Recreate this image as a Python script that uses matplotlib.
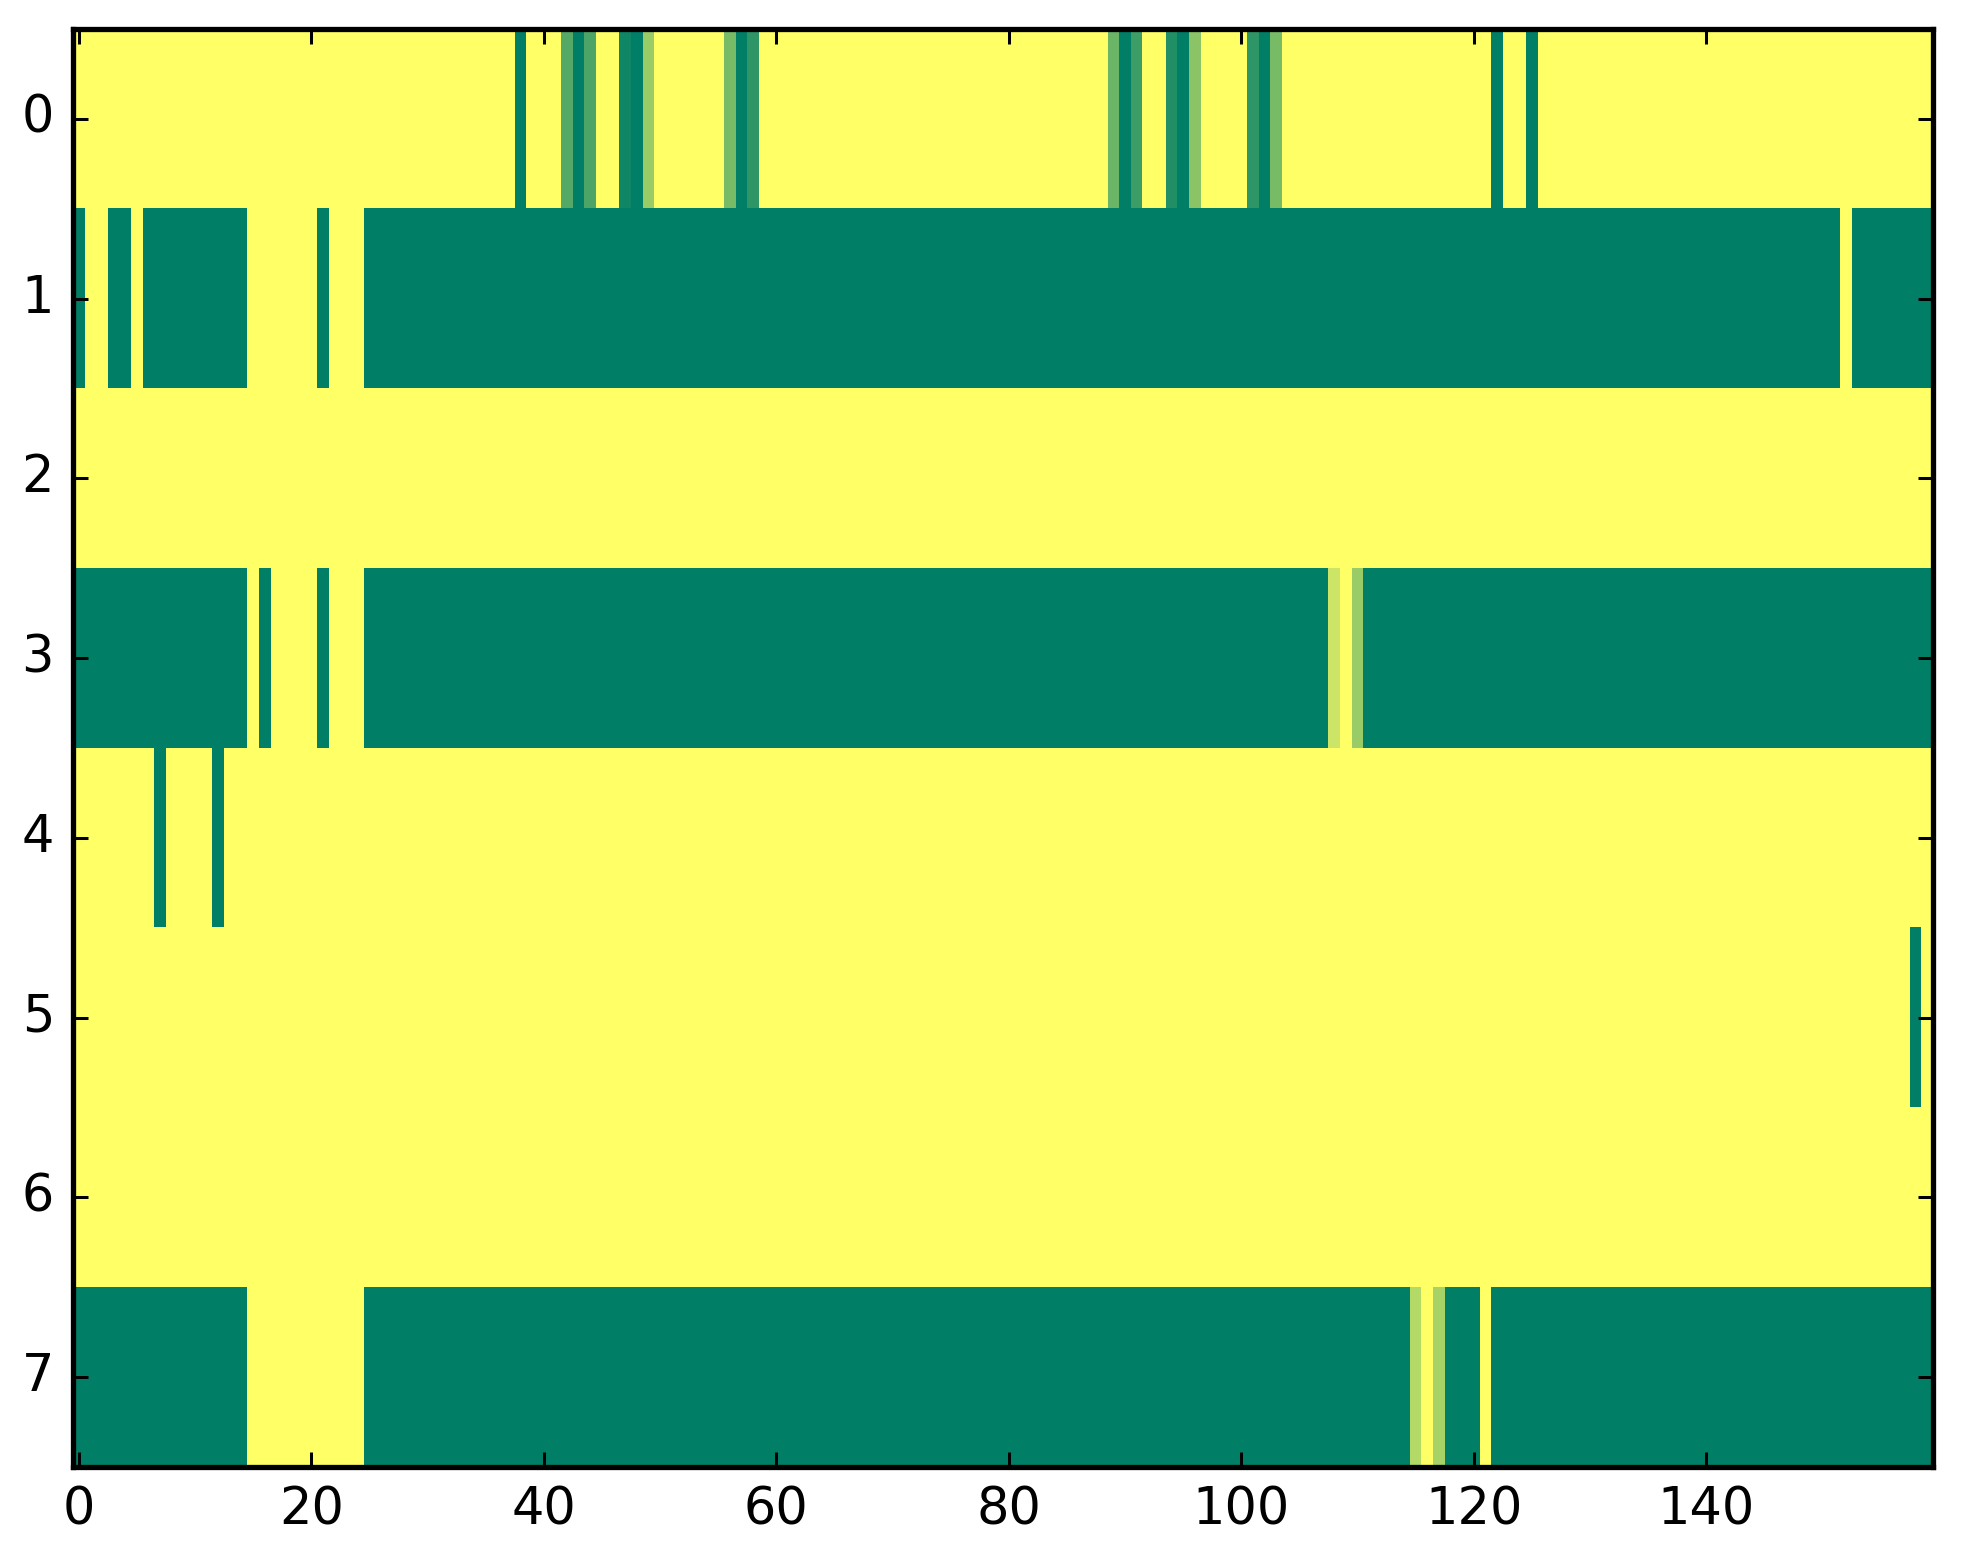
import numpy as np
import matplotlib
matplotlib.use("Agg")
import matplotlib.pyplot as plt

plt.style.use("classic")

# ── Data: 8 rows x 160 columns, each row = base value + (first, last, value) runs ──
n_rows, n_cols = 8, 160

row0_base = 1.0
row0_runs = [(38, 38, 0.0), (42, 42, 0.33), (43, 43, 0.0), (44, 44, 0.30),
             (47, 47, 0.06), (48, 48, 0.0), (49, 49, 0.60),
             (56, 56, 0.47), (57, 57, 0.0), (58, 58, 0.18),
             (89, 89, 0.42), (90, 90, 0.0), (91, 91, 0.24),
             (94, 94, 0.125), (95, 95, 0.0), (96, 96, 0.54),
             (101, 101, 0.18), (102, 102, 0.0), (103, 103, 0.47),
             (122, 122, 0.0), (125, 125, 0.0)]

row1_base = 0.0
row1_runs = [(1, 2, 1.0), (5, 5, 1.0), (15, 20, 1.0), (22, 24, 1.0), (152, 152, 1.0)]

row2_base = 1.0
row2_runs = []

row3_base = 0.0
row3_runs = [(15, 15, 1.0), (17, 20, 1.0), (22, 24, 1.0),
             (108, 108, 0.80), (109, 109, 1.0), (110, 110, 0.60)]

row4_base = 1.0
row4_runs = [(7, 7, 0.0), (12, 12, 0.0)]

row5_base = 1.0
row5_runs = [(158, 158, 0.0)]

row6_base = 1.0
row6_runs = []

row7_base = 0.0
row7_runs = [(15, 24, 1.0), (115, 115, 0.70), (116, 116, 1.0),
             (117, 117, 0.65), (121, 121, 1.0)]

x_ticks = [0, 20, 40, 60, 80, 100, 120, 140]
y_ticks = [0, 1, 2, 3, 4, 5, 6, 7]

# ── Build matrix ──────────────────────────────────────────────────────────────
rows = [(row0_base, row0_runs), (row1_base, row1_runs), (row2_base, row2_runs),
        (row3_base, row3_runs), (row4_base, row4_runs), (row5_base, row5_runs),
        (row6_base, row6_runs), (row7_base, row7_runs)]

data = np.zeros((n_rows, n_cols))
for i, (base, runs) in enumerate(rows):
    data[i, :] = base
    for a, b, v in runs:
        data[i, a:b + 1] = v

# ── Plot ──────────────────────────────────────────────────────────────────────
dpi = 272
fig = plt.figure(figsize=(1963 / dpi, 1564 / dpi), dpi=dpi)
fig.patch.set_facecolor("white")
ax = fig.add_axes([73 / 1963, 1 - 1467 / 1564, 1860 / 1963, (1467 - 29) / 1564])

ax.imshow(data, cmap="summer", vmin=0, vmax=1, aspect="auto",
          interpolation="nearest")
ax.set_xticks(x_ticks)
ax.set_yticks(y_ticks)
ax.set_xlim(-0.5, n_cols - 0.5)
ax.set_ylim(n_rows - 0.5, -0.5)
ax.tick_params(labelsize=13.5, length=4, width=0.8, pad=5)
for sp in ax.spines.values():
    sp.set_linewidth(1.4)

fig.savefig("out.png", dpi=dpi)
